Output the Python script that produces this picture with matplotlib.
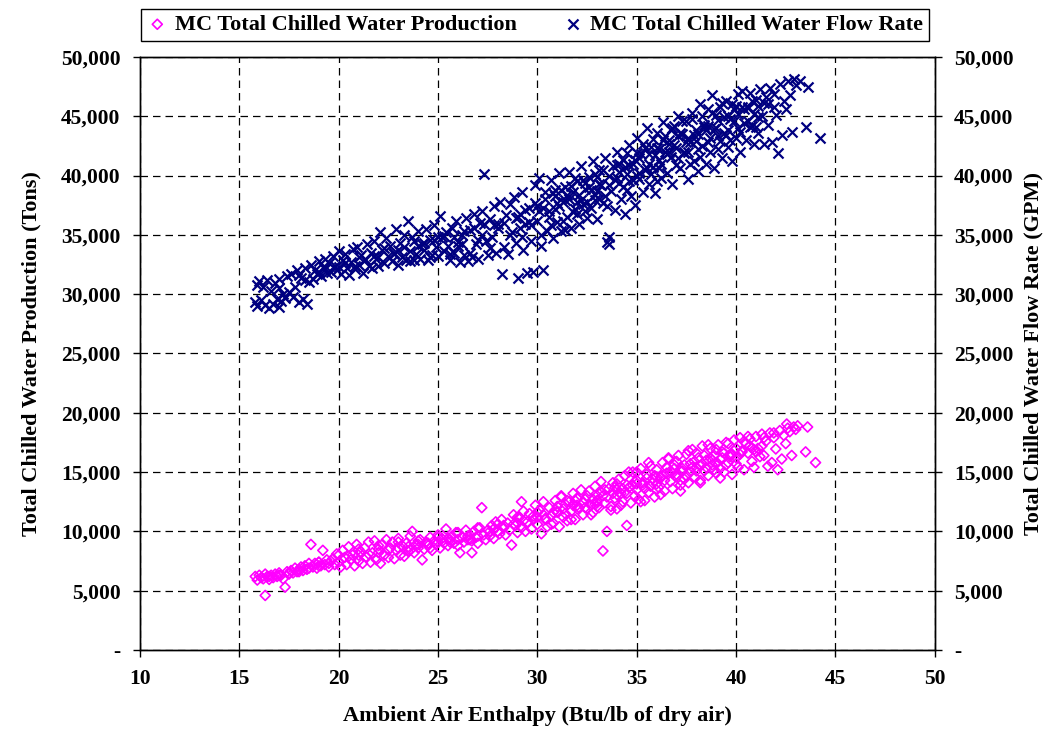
import matplotlib
matplotlib.use("Agg")
from matplotlib import pyplot as plt
from matplotlib.ticker import FuncFormatter

plt.rcParams['font.family'] = ['Liberation Serif', 'DejaVu Serif']
plt.rcParams['font.weight'] = 'bold'

# MC total chilled water flow rate (GPM) vs ambient enthalpy
flow_x = [
    15.8, 15.9, 15.9, 16.0, 16.1, 16.2, 16.3, 16.4, 16.5, 16.6,
    16.7, 16.8, 16.9, 17.0, 17.1, 17.2, 17.3, 17.4, 17.5, 17.0,
    17.6, 17.7, 17.8, 17.9, 18.0, 18.1, 18.2, 18.3, 18.4, 18.5,
    18.6, 18.7, 18.8, 18.9, 19.0, 19.1, 19.2, 19.3, 19.4, 19.5,
    19.6, 19.7, 19.8, 19.9, 20.0, 20.1, 20.2, 20.3, 20.4, 20.5,
    20.6, 20.7, 20.8, 20.9, 21.0, 21.1, 21.2, 21.3, 21.4, 21.5,
    21.6, 21.7, 21.8, 21.9, 22.0, 22.1, 22.2, 22.3, 22.4, 22.5,
    22.6, 22.7, 22.8, 22.9, 23.0, 23.1, 23.2, 23.3, 23.4, 23.5,
    23.6, 23.7, 23.8, 23.9, 24.0, 24.1, 24.2, 24.3, 24.4, 24.5,
    24.6, 24.7, 24.8, 24.9, 25.0, 25.1, 25.2, 25.3, 25.4, 25.5,
    25.6, 25.7, 25.8, 25.9, 26.0, 26.1, 26.2, 26.3, 26.4, 26.5,
    26.6, 26.7, 26.8, 26.9, 27.0, 27.1, 27.2, 27.3, 27.4, 27.5,
    27.6, 27.7, 27.8, 27.9, 28.0, 28.1, 28.2, 28.3, 28.4, 28.5,
    28.6, 28.7, 28.8, 28.9, 29.0, 29.1, 29.2, 29.3, 29.4, 29.5,
    29.6, 29.7, 29.8, 29.9, 30.0, 30.1, 30.2, 30.3, 30.4, 30.5,
    30.6, 30.7, 30.8, 30.9, 31.0, 31.1, 31.2, 31.3, 31.4, 31.5,
    31.6, 31.7, 31.8, 31.9, 32.0, 32.1, 32.2, 32.3, 32.4, 32.5,
    32.6, 32.7, 32.8, 32.9, 33.0, 33.1, 33.2, 33.3, 33.4, 33.5,
    33.6, 33.6, 33.7, 33.8, 33.9, 34.0, 34.1, 34.2, 34.3, 34.4,
    34.5, 34.6, 34.7, 34.8, 34.9, 35.0, 35.1, 35.2, 35.3, 35.4,
    35.5, 35.6, 35.7, 35.8, 35.9, 36.0, 36.1, 36.2, 36.3, 36.4,
    36.5, 36.6, 36.7, 36.8, 36.9, 37.0, 37.1, 37.2, 37.3, 37.4,
    37.5, 37.6, 37.7, 37.8, 37.9, 38.0, 38.1, 38.2, 38.3, 38.4,
    38.5, 38.6, 38.7, 38.8, 38.9, 39.0, 39.1, 39.2, 39.3, 39.4,
    39.5, 39.6, 39.7, 39.8, 39.9, 40.0, 40.1, 40.2, 40.3, 40.4,
    40.5, 40.6, 40.7, 40.8, 40.9, 41.0, 41.1, 41.2, 41.3, 41.4,
    41.5, 41.6, 41.7, 41.8, 41.9, 42.0, 42.1, 42.2, 42.3, 42.4,
    42.5, 42.6, 42.7, 42.8, 42.9, 43.0, 43.2, 43.5, 43.6, 44.2,
    28.3, 28.9, 29.4, 29.9, 30.3, 30.8, 31.2, 31.7, 32.2, 32.7,
    33.1, 33.6, 34.1, 34.6, 35.1, 35.6, 36.1, 36.6, 37.1, 37.6,
    38.1, 38.6, 39.1, 39.6, 40.1, 40.6, 41.1, 41.6, 28.6, 29.1,
    29.6, 30.1, 30.6, 31.1, 31.6, 32.1, 32.6, 33.1, 33.6, 34.1,
    34.6, 35.1, 35.6, 36.1, 36.6, 37.1, 37.6, 38.1, 38.6, 39.1,
    39.6, 40.1, 40.6, 41.1, 35.3, 35.8, 36.3, 36.8, 37.3, 37.8,
    38.3, 38.8, 39.3, 39.8, 40.3, 40.8, 34.3, 34.8, 33.3, 32.3,
    30.2, 30.7, 31.3, 31.8, 32.4, 32.9, 30.9, 31.4, 29.2, 29.7,
    20.3, 21.3, 22.3, 23.3, 24.3, 25.3, 26.3, 27.3, 21.8, 23.8,
    24.8, 25.8, 26.8, 27.8, 19.3, 18.3, 22.8, 20.8, 26.2, 27.2,
    30.4, 30.9, 31.4, 31.9, 32.4, 32.9, 33.4, 33.9, 34.4, 34.9,
    35.4, 35.9, 36.4, 36.9, 37.4, 37.9, 38.4, 38.9, 39.4, 39.9,
    40.4, 40.9, 41.4, 41.9, 35.7, 36.2, 36.7, 37.2, 37.7, 38.2,
    38.7, 39.2, 39.7, 40.2, 40.7, 34.0, 34.5, 35.0, 33.0, 32.0,
    31.0, 30.0, 29.0, 28.0, 27.0, 26.0, 25.0, 24.0, 23.0, 22.0,
    21.0, 20.0, 19.0, 18.0, 17.0, 27.6, 26.6, 25.6, 24.6, 23.6,
    36.0, 36.5, 37.0, 37.5, 38.0, 38.5, 39.0, 39.5, 40.0, 41.0,
    31.5, 32.0, 32.5, 33.0, 33.5, 34.0, 34.5, 35.0, 35.5, 36.0,
]
flow_gpm = [
    29300, 30800, 29000, 31100, 29500, 30600, 29100, 31200, 28800, 30300,
    29200, 30900, 29600, 31300, 29400, 30000, 29700, 31500, 30200, 28900,
    31700, 29800, 30600, 32000, 29300, 31400, 29600, 32200, 29200, 31000,
    32500, 31300, 32000, 31700, 32800, 31500, 32300, 33000, 31800, 32600,
    31900, 33200, 32400, 32000, 33600, 31700, 32900, 33400, 32200, 31600,
    32700, 33800, 32100, 34000, 32500, 33300, 31800, 32900, 34200, 32400,
    33500, 32200, 34500, 33000, 32400, 35200, 33700, 32600, 34700, 33200,
    34100, 32800, 33500, 35500, 32500, 34300, 33100, 35000, 32900, 36200,
    33600, 34800, 32900, 33400, 35300, 33000, 34200, 33700, 35500, 32900,
    34600, 33300, 35800, 34000, 33200, 36600, 34800, 33600, 35200, 34100,
    32900, 35600, 33500, 36200, 34400, 32700, 35000, 33300, 36400, 32800,
    35400, 33100, 36800, 34200, 33000, 36000, 37000, 40100, 34500, 33300,
    36300, 34800, 37400, 33500, 35600, 37800, 31700, 34000, 36700, 33400,
    37600, 35200, 38200, 34300, 31400, 36800, 38600, 33700, 35900, 31800,
    37300, 34500, 31900, 39200, 36200, 39800, 34100, 32000, 38000, 35300,
    37000, 39600, 34700, 38300, 36100, 40200, 35300, 37800, 39000, 36500,
    40300, 35600, 38600, 37200, 39500, 35900, 40800, 37600, 38900, 36400,
    39900, 37300, 41200, 38400, 36300, 40500, 39200, 37700, 41500, 34400,
    34200, 34800, 38700, 40800, 37100, 42000, 39400, 38000, 41300, 36800,
    40100, 42600, 38300, 41000, 37500, 43200, 39700, 41800, 38600, 40500,
    44000, 39300, 42400, 40700, 38500, 43600, 41300, 39800, 44500, 42000,
    40200, 43000, 41600, 39300, 44200, 42300, 45000, 40600, 43500, 41900,
    44600, 39700, 42800, 45300, 41200, 43800, 40400, 46000, 42500, 44300,
    41000, 45600, 43200, 46800, 40600, 44000, 42200, 45800, 41500, 43600,
    46300, 42400, 44800, 41200, 45600, 43200, 46900, 42000, 47100, 44400,
    43000, 45700, 47000, 44200, 42700, 46400, 43600, 47300, 45000, 42700,
    46600, 44300, 47400, 42800, 45800, 45100, 41900, 47700, 43400, 46300,
    45600, 48000, 46800, 43700, 48100, 47600, 48000, 44100, 47500, 43200,
    36000, 36400, 37100, 37700, 37300, 38500, 38800, 39100, 37900, 38800,
    39300, 40000, 40300, 40900, 41500, 41800, 42200, 42700, 43300, 43200,
    43500, 44200, 44700, 45000, 45200, 45800, 45900, 46000, 35000, 35600,
    36100, 37000, 36500, 37400, 38000, 38400, 39000, 38000, 39200, 41000,
    39500, 40200, 41000, 40600, 42000, 41500, 42000, 42200, 42800, 43300,
    43800, 44000, 44600, 44900, 42700, 43100, 43000, 44000, 44600, 44800,
    45000, 45300, 46100, 46000, 45800, 46300, 39000, 39600, 40500, 39600,
    35000, 35800, 36200, 36900, 37000, 37900, 38800, 35400, 34800, 35800,
    32600, 33000, 33900, 34000, 34300, 34900, 35300, 35900, 33200, 34500,
    34600, 34800, 35600, 35800, 32100, 31200, 33400, 32400, 34200, 35000,
    38600, 37200, 37900, 39800, 39400, 40100, 38300, 39600, 40700, 41300,
    42300, 41700, 43300, 42600, 42000, 43400, 44100, 43900, 44900, 44600,
    45600, 45200, 46100, 46900, 40100, 41000, 43800, 43600, 41000, 41600,
    42000, 42900, 43000, 43700, 44100, 39800, 41900, 40000, 38700, 37800,
    37700, 37400, 36500, 35900, 34600, 34100, 34800, 34100, 33700, 33100,
    33100, 32300, 31900, 31600, 30500, 33900, 33500, 33400, 33100, 32800,
    39500, 41800, 40900, 42800, 42900, 43800, 45100, 43400, 45900, 44100,
    38400, 36800, 37800, 39900, 37400, 40900, 38800, 41900, 40600, 42300,
]

# MC total chilled water production (tons) vs ambient enthalpy
prod_x = [
    15.8, 15.9, 16.0, 16.1, 16.2, 16.3, 16.3, 16.4, 16.5, 16.6,
    16.7, 16.8, 16.9, 17.0, 17.1, 17.2, 17.3, 17.4, 17.5, 17.6,
    17.7, 17.8, 17.9, 18.0, 18.1, 18.2, 18.3, 18.4, 18.5, 18.6,
    18.7, 18.8, 18.9, 19.0, 19.1, 19.2, 19.3, 19.4, 19.5, 19.6,
    19.7, 19.8, 19.9, 20.0, 20.1, 20.2, 20.3, 20.4, 20.5, 20.6,
    20.7, 20.8, 20.9, 21.0, 21.1, 21.2, 21.3, 21.4, 21.5, 21.6,
    21.7, 21.8, 21.9, 22.0, 22.1, 22.2, 22.3, 22.4, 22.5, 22.6,
    22.7, 22.8, 22.9, 23.0, 23.1, 23.2, 23.3, 23.4, 23.5, 23.6,
    23.7, 23.8, 23.9, 24.0, 24.1, 24.2, 24.3, 24.4, 24.5, 24.6,
    24.7, 24.8, 24.9, 25.0, 25.1, 25.2, 25.3, 25.4, 25.5, 25.6,
    25.7, 25.8, 25.9, 26.0, 26.1, 26.2, 26.3, 26.4, 26.5, 26.6,
    26.7, 26.7, 26.8, 26.9, 27.0, 27.1, 27.2, 27.3, 27.4, 27.5,
    27.6, 27.7, 27.8, 27.9, 28.0, 28.1, 28.2, 28.3, 28.4, 28.5,
    28.6, 28.7, 28.8, 28.9, 29.0, 29.1, 29.2, 29.3, 29.4, 29.5,
    29.6, 29.7, 29.8, 29.9, 30.0, 30.1, 30.2, 30.3, 30.4, 30.5,
    30.6, 30.7, 30.8, 30.9, 31.0, 31.1, 31.2, 31.3, 31.4, 31.5,
    31.6, 31.7, 31.8, 31.9, 32.0, 32.1, 32.2, 32.3, 32.4, 32.5,
    32.6, 32.7, 32.8, 32.9, 33.0, 33.1, 33.2, 33.3, 33.4, 33.5,
    33.6, 33.7, 33.8, 33.9, 34.0, 34.1, 34.2, 34.3, 34.4, 34.5,
    34.6, 34.7, 34.8, 34.9, 35.0, 35.1, 35.2, 35.3, 35.4, 35.5,
    35.6, 35.7, 35.8, 35.9, 36.0, 36.1, 36.2, 36.3, 36.4, 36.5,
    36.6, 36.7, 36.8, 36.9, 37.0, 37.1, 37.2, 37.3, 37.4, 37.5,
    37.6, 37.7, 37.8, 37.9, 38.0, 38.1, 38.2, 38.3, 38.4, 38.5,
    38.6, 38.7, 38.8, 38.9, 39.0, 39.1, 39.2, 39.3, 39.4, 39.5,
    39.6, 39.7, 39.8, 39.9, 40.0, 40.1, 40.2, 40.3, 40.4, 40.5,
    40.6, 40.7, 40.8, 40.9, 41.0, 41.1, 41.2, 41.3, 41.4, 41.5,
    41.6, 41.7, 41.8, 41.9, 42.0, 42.1, 42.2, 42.3, 42.4, 42.5,
    42.6, 42.7, 42.8, 42.9, 43.0, 43.1, 43.5, 43.6, 44.0, 42.55,
    27.8, 28.3, 28.8, 29.3, 29.8, 30.3, 30.8, 31.3, 31.8, 32.3,
    32.8, 33.3, 33.8, 34.3, 34.8, 35.3, 35.8, 36.3, 36.8, 37.3,
    37.8, 38.3, 38.8, 39.3, 39.8, 40.3, 40.8, 41.3, 34.0, 35.0,
    36.0, 37.0, 38.0, 39.0, 40.0, 30.0, 31.0, 32.0, 33.0, 29.0,
    34.2, 35.2, 36.2, 37.2, 38.2, 39.2, 30.7, 31.7, 32.7, 33.7,
    34.6, 35.6, 36.6, 37.6, 38.6, 39.6, 33.2, 31.2, 29.2, 40.6,
    20.5, 21.5, 22.5, 23.5, 24.5, 25.5, 26.5, 21.0, 22.0, 23.0,
    24.0, 25.0, 26.0, 27.0, 28.0, 17.5, 18.5, 19.5, 16.5, 19.0,
    30.4, 30.9, 31.4, 31.9, 32.4, 32.9, 33.4, 33.9, 34.4, 34.9,
    35.4, 35.9, 36.4, 36.9, 37.4, 37.9, 38.4, 38.9, 39.4, 39.9,
    40.4, 40.9, 41.4, 41.9, 35.7, 36.2, 36.7, 37.2, 37.7, 38.2,
    38.7, 39.2, 39.7, 40.2, 40.7, 34.0, 34.5, 35.0, 33.0, 32.0,
    31.0, 30.0, 29.0, 28.0, 27.0, 26.0, 25.0, 24.0, 23.0, 22.0,
    21.0, 20.0, 19.0, 18.0, 17.0, 27.6, 26.6, 25.6, 24.6, 23.6,
    36.0, 36.5, 37.0, 37.5, 38.0, 38.5, 39.0, 39.5, 40.0, 41.0,
    31.5, 32.0, 32.5, 33.0, 33.5, 34.0, 34.5, 35.0, 35.5, 36.0,
]
prod_tons = [
    6200, 5900, 6300, 6100, 6000, 4600, 6400, 6200, 5950, 6300,
    6100, 6400, 6200, 6500, 6300, 6000, 5300, 6600, 6400, 6700,
    6500, 6900, 6600, 6800, 7000, 6700, 7100, 6800, 7300, 8900,
    7000, 7300, 6900, 7400, 7100, 8400, 7200, 7600, 7000, 7500,
    7700, 7200, 8100, 7400, 7000, 8400, 7800, 7200, 8700, 7600,
    8000, 7100, 8900, 7500, 8300, 7300, 8600, 7800, 9100, 7400,
    8200, 9200, 7600, 8500, 7300, 8900, 8000, 9300, 7800, 8600,
    9100, 7700, 8400, 9400, 8000, 8800, 7900, 9000, 8300, 9600,
    10000, 8200, 8900, 8600, 9300, 7600, 8500, 9100, 8800, 9500,
    8400, 9200, 8900, 9700, 8600, 9400, 9000, 10200, 8800, 9300,
    9600, 9000, 9900, 8800, 8200, 9500, 9100, 10100, 9300, 9700,
    8200, 9200, 10000, 9500, 9000, 10300, 12000, 9700, 9300, 10100,
    9600, 10500, 9400, 10800, 10000, 9800, 11000, 10300, 9700, 10700,
    10100, 8850, 11400, 10500, 9900, 11200, 10300, 11700, 10000, 10800,
    11500, 10200, 11000, 12200, 10600, 11800, 9800, 12500, 11100, 10400,
    12000, 11300, 10700, 12600, 11600, 10400, 12900, 11200, 12300, 10900,
    12500, 11700, 13200, 11000, 12800, 12000, 13500, 11400, 12700, 11900,
    13400, 12200, 11600, 13800, 12600, 12000, 13300, 8350, 12400, 10000,
    13600, 12100, 14100, 12800, 11900, 14400, 13200, 12500, 14700, 10500,
    13700, 12400, 15000, 13000, 14300, 12700, 15300, 13900, 12600, 14800,
    13300, 15500, 14100, 12900, 15200, 13700, 14500, 15800, 13400, 14900,
    16100, 14200, 13600, 15600, 14800, 16400, 13900, 15300, 14400, 16500,
    14100, 15700, 16900, 14600, 15400, 16200, 14300, 17200, 15100, 16000,
    14700, 17000, 15600, 16400, 14900, 17300, 15300, 16700, 15000, 17500,
    15800, 16500, 14800, 17700, 16200, 15400, 17900, 16800, 15200, 17400,
    16600, 17800, 15900, 15400, 18000, 17000, 16300, 18200, 16400, 17600,
    15500, 18300, 15800, 17900, 16950, 15200, 18500, 16100, 18100, 17400,
    18700, 18400, 16400, 18800, 18600, 18900, 16700, 18800, 15800, 19050,
    10200, 10500, 10600, 10900, 11300, 11400, 11600, 11900, 12200, 12400,
    12700, 13000, 13200, 13600, 13900, 14100, 14400, 14700, 14900, 15100,
    15400, 15700, 16000, 16200, 16500, 16700, 17000, 17200, 13100, 13500,
    14000, 14600, 15100, 15700, 17000, 11200, 11700, 12200, 13000, 10700,
    12200, 12500, 13100, 13400, 14100, 14500, 10600, 11000, 11400, 11800,
    15000, 15800, 16200, 16800, 17300, 17400, 14200, 13000, 12500, 18000,
    7900, 8100, 8400, 8700, 9000, 9400, 9600, 8000, 8200, 8600,
    8900, 9100, 9300, 9600, 10000, 6500, 6900, 7300, 6200, 7100,
    11000, 11800, 11500, 12600, 12000, 12300, 13500, 13700, 13300, 14200,
    13600, 14700, 14300, 15300, 15600, 15900, 16400, 15200, 16600, 16800,
    17600, 16900, 17900, 18300, 13800, 14600, 15100, 14300, 15000, 15500,
    16200, 16100, 16300, 16500, 17200, 14000, 13900, 14000, 12100, 12800,
    12100, 11600, 11200, 10600, 10300, 9900, 9500, 9200, 9100, 8800,
    8500, 8000, 7400, 6600, 6300, 10000, 9300, 9100, 8600, 8400,
    13500, 15400, 15900, 14700, 16600, 15400, 16900, 15600, 15700, 16700,
    12600, 11900, 13000, 12400, 12900, 13500, 13200, 15000, 14500, 14600,
]

x_ticks = [10, 15, 20, 25, 30, 35, 40, 45, 50]
y_ticks = [0, 5000, 10000, 15000, 20000, 25000, 30000, 35000, 40000, 45000, 50000]


def acct_fmt(v, pos):
    if v == 0:
        return '-'
    return '{:,.0f}'.format(v)


fig = plt.figure(figsize=(10.61, 7.30), dpi=100)
ax = fig.add_axes([0.132, 0.1096, 0.749, 0.8124])
ax2 = ax.twinx()

ax.scatter(prod_x, prod_tons, marker='D', s=26, facecolors='none',
           edgecolors='#FF00FF', linewidths=1.2, zorder=3,
           label='MC Total Chilled Water Production')
ax2.scatter(flow_x, flow_gpm, marker='x', s=52, color='#000080',
            linewidths=1.6, zorder=3,
            label='MC Total Chilled Water Flow Rate')

for a in (ax, ax2):
    a.set_xlim(10, 50)
    a.set_ylim(0, 50000)
    a.set_yticks(y_ticks)
    a.yaxis.set_major_formatter(FuncFormatter(acct_fmt))
    a.tick_params(direction='out', length=5, width=1, labelsize=15.5,
                  color='black', pad=9)
    for s in a.spines.values():
        s.set_color('black')
        s.set_linewidth(1.0)

ax.set_xticks(x_ticks)
ax.grid(True, color='black', linestyle=(0, (6, 4)), linewidth=0.9)
ax.set_axisbelow(True)

ax.set_xlabel('Ambient Air Enthalpy (Btu/lb of dry air)', fontsize=16, fontweight='bold', labelpad=12)
ax.set_ylabel('Total Chilled Water Production (Tons)', fontsize=16, fontweight='bold', labelpad=14)
ax2.set_ylabel('Total Chilled Water Flow Rate (GPM)', fontsize=16, fontweight='bold', labelpad=7)

h1, l1 = ax.get_legend_handles_labels()
h2, l2 = ax2.get_legend_handles_labels()
leg = fig.legend(h1 + h2, l1 + l2, loc='center', ncol=2,
                 bbox_to_anchor=(0.504, 0.966), frameon=True,
                 fancybox=False, edgecolor='black', framealpha=1,
                 handletextpad=0.3, columnspacing=2.0, borderpad=0.25,
                 handlelength=1.0, prop={'weight': 'bold', 'size': 16})
leg.get_frame().set_linewidth(1.0)

fig.savefig('out.png', dpi=100)
